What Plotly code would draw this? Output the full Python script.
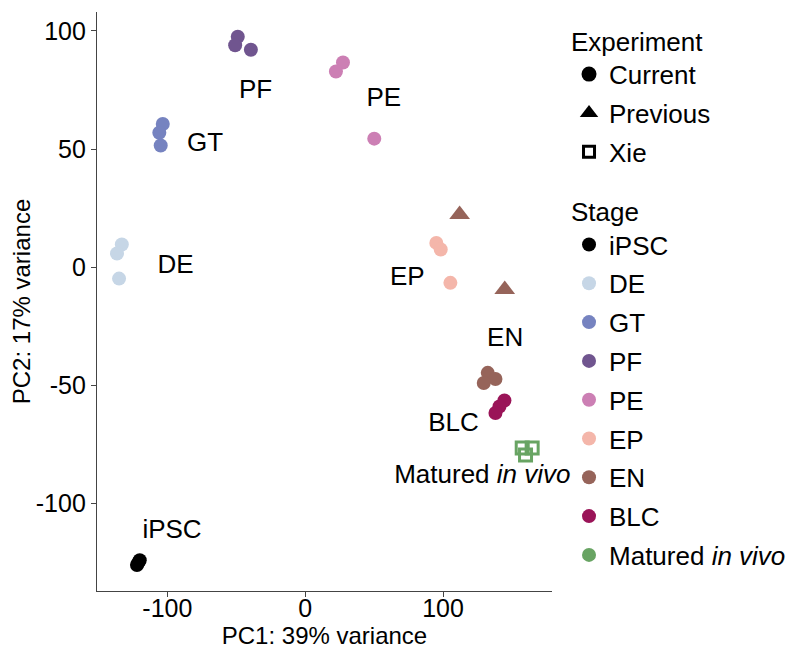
import plotly.graph_objects as go

# ---- data ----
stages = ["iPSC", "DE", "GT", "PF", "PE", "EP", "EN", "BLC", "Matured in vivo"]
stage_labels = ["iPSC", "DE", "GT", "PF", "PE", "EP", "EN", "BLC", "Matured <i>in vivo</i>"]
stage_colors = ["#000000", "#c6d6e6", "#7683c0", "#70558f", "#cc7fb4",
                "#f4b6aa", "#96645a", "#9a1458", "#68a463"]

experiments = ["Current", "Previous", "Xie"]

# points per stage (Current experiment unless noted)
pc1_ipsc = [-122, -120, -121]
pc2_ipsc = [-126, -124, -125]
pc1_de = [-133, -136.5, -135]
pc2_de = [9.6, 5.8, -4.8]
pc1_gt = [-103.3, -105.8, -104.8]
pc2_gt = [60.6, 56.9, 51.5]
pc1_pf = [-48.9, -50.8, -39.4]
pc2_pf = [97.5, 93.9, 92.0]
pc1_pe = [27.4, 22.3, 50.1]
pc2_pe = [86.6, 82.8, 54.4]
pc1_ep = [95.1, 98.3, 105.3]
pc2_ep = [10.3, 7.5, -6.6]
pc1_en = [132.4, 138.0, 129.5]
pc2_en = [-44.7, -47.3, -49.0]
pc1_blc = [144.5, 140.9, 138.0]
pc2_blc = [-56.4, -58.9, -61.7]
# Previous experiment (EN)
pc1_en_prev = [112.0, 144.7]
pc2_en_prev = [22.3, -9.4]
# Xie (Matured in vivo)
pc1_xie = [157.4, 164.6, 159.8]
pc2_xie = [-76.5, -76.5, -79.4]

# stage text labels
label_text = ["iPSC", "DE", "GT", "PF", "PE", "EP", "EN", "BLC", "Matured <i>in vivo</i>"]
label_x = [-96.6, -94, -72.6, -36, 57, 74, 145, 107.5, 128.5]
label_y = [-112, 0.3, 52, 74.5, 71, -4.8, -30.6, -66.6, -88.7]

x_ticks = [-100, 0, 100]
x_ticktext = ["-100", "0", "100"]
y_ticks = [-100, -50, 0, 50, 100]
y_ticktext = ["-100", "-50", "0", "50", "100"]
x_range = [-151, 179]
y_range = [-137, 108]

FONT = "Arial, Liberation Sans, sans-serif"
FS_LEG = 26
FS_LAB = 26
FS_TICK = 25
FS_TITLE = 24

fig = go.Figure()

current_x = [pc1_ipsc, pc1_de, pc1_gt, pc1_pf, pc1_pe, pc1_ep, pc1_en, pc1_blc]
current_y = [pc2_ipsc, pc2_de, pc2_gt, pc2_pf, pc2_pe, pc2_ep, pc2_en, pc2_blc]

# Experiment legend entries (legend 1)
exp_symbols = ["circle", "triangle-up", "square-open"]
exp_sizes = [15, 17, 11]
for i, (e, s) in enumerate(zip(experiments, exp_symbols)):
    fig.add_trace(go.Scatter(
        x=[None], y=[None], mode="markers", name=e,
        marker=dict(symbol=s, color="black", size=exp_sizes[i],
                    line=dict(width=3 if s == "square-open" else 0, color="black")),
        legend="legend", legendgroup="exp_" + e, showlegend=True,
    ))

# Stage data traces (Current) -> legend 2
for i in range(8):
    fig.add_trace(go.Scatter(
        x=current_x[i], y=current_y[i], mode="markers", name=stage_labels[i],
        marker=dict(symbol="circle", color=stage_colors[i], size=14, line=dict(width=0)),
        legend="legend2", legendgroup="stage_" + stages[i], showlegend=True,
    ))

# Previous experiment EN triangles
fig.add_trace(go.Scatter(
    x=pc1_en_prev, y=pc2_en_prev, mode="markers", name="EN (Previous)",
    marker=dict(symbol="triangle-up", color=stage_colors[6], size=18, line=dict(width=0)),
    showlegend=False,
))

# Xie squares
fig.add_trace(go.Scatter(
    x=pc1_xie, y=pc2_xie, mode="markers", name="Matured in vivo (Xie)",
    marker=dict(symbol="square-open", color=stage_colors[8], size=12,
                line=dict(width=3, color=stage_colors[8])),
    showlegend=False,
))

# Matured in vivo legend entry
fig.add_trace(go.Scatter(
    x=[None], y=[None], mode="markers", name=stage_labels[8],
    marker=dict(symbol="circle", color=stage_colors[8], size=14, line=dict(width=0)),
    legend="legend2", legendgroup="stage_" + stages[8], showlegend=True,
))

# stage labels
fig.add_trace(go.Scatter(
    x=label_x, y=label_y, mode="text", text=label_text,
    textfont=dict(size=FS_LAB, color="black", family=FONT),
    textposition="middle center", showlegend=False, hoverinfo="skip",
    cliponaxis=False,
))

axis_common = dict(
    showgrid=False, zeroline=False, showline=True, linecolor="#444444", linewidth=1.3,
    ticks="outside", ticklen=5, tickwidth=1.3, tickcolor="#444444",
    tickfont=dict(size=FS_TICK, color="black", family=FONT),
    mirror=False, automargin=False,
)

# plot area (page has an 8px body offset): figure px x 89..544, y 4..583
legend_common = dict(
    xanchor="left", yanchor="top", font=dict(size=FS_LEG, color="black", family=FONT),
    itemsizing="trace", bgcolor="rgba(0,0,0,0)", traceorder="grouped", tracegroupgap=2,
)

fig.update_layout(
    width=800, height=655,
    margin=dict(l=89, r=256, t=4, b=72),
    paper_bgcolor="white", plot_bgcolor="white",
    font=dict(family=FONT, size=FS_LEG, color="black"),
    xaxis=dict(range=x_range, tickvals=x_ticks, ticktext=x_ticktext, **axis_common,
               ticklabelstandoff=-10,
               title=dict(text="PC1: 39% variance", font=dict(size=FS_TITLE), standoff=0)),
    yaxis=dict(range=y_range, tickvals=y_ticks, ticktext=y_ticktext, **axis_common,
               title=dict(text="PC2: 17% variance", font=dict(size=FS_TITLE), standoff=0)),
    legend=dict(x=1.0374, y=0.9915, title=dict(text="Experiment", font=dict(size=FS_LEG)),
                **legend_common),
    legend2=dict(x=1.0374, y=0.6972, title=dict(text="Stage", font=dict(size=FS_LEG)),
                 **legend_common),
)

fig.write_html("out.html")
